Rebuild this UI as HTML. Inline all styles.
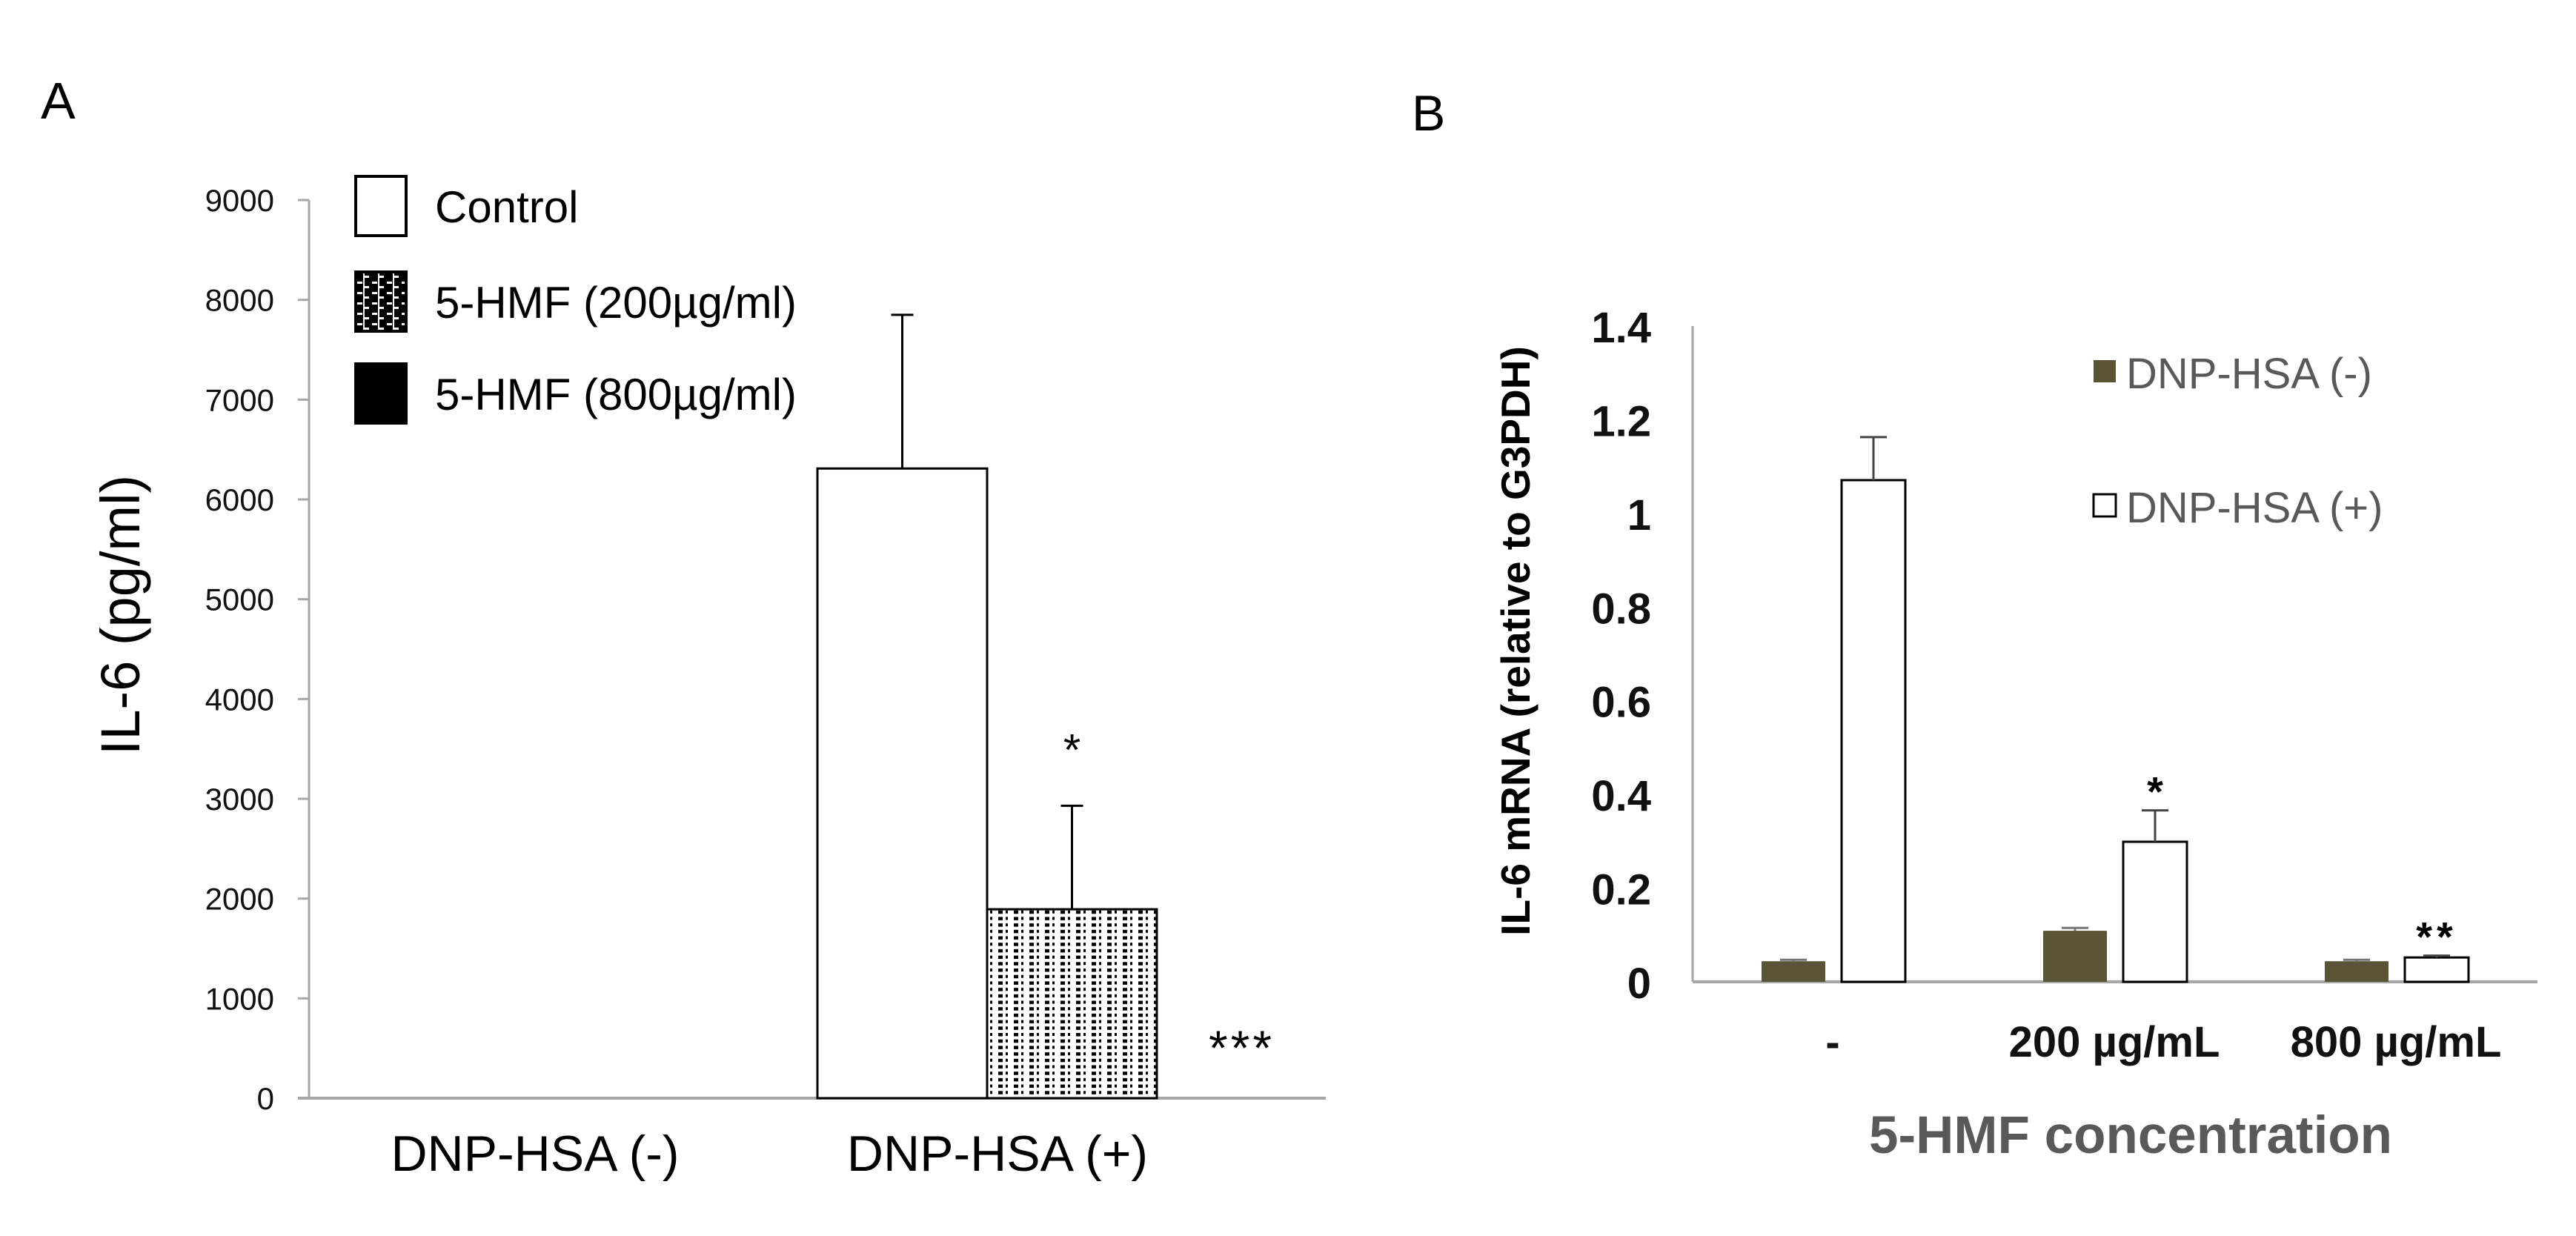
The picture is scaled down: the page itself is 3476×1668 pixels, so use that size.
<!DOCTYPE html>
<html><head><meta charset="utf-8"><style>
html,body{margin:0;padding:0;background:#fff;}
svg{display:block;}
text{font-family:"Liberation Sans",sans-serif;}
</style></head><body>
<svg id="fig" width="3476" height="1668" viewBox="0 0 3476 1668" xmlns="http://www.w3.org/2000/svg">
<defs>
<pattern id="dots" width="21" height="17.4" patternUnits="userSpaceOnUse">
<rect x="0" y="0" width="21" height="17.4" fill="#fff"/>
<rect x="3" y="2" width="6" height="4.5" fill="#000"/>
<rect x="13" y="2" width="3" height="4" fill="#000"/>
<rect x="3" y="10.7" width="6" height="4.5" fill="#000"/>
<rect x="13" y="10.7" width="3" height="4" fill="#000"/>
</pattern>
<pattern id="legpat" width="20" height="14" patternUnits="userSpaceOnUse">
<rect width="20" height="14" fill="#000"/>
<rect x="2" y="2" width="7" height="3" fill="#fff"/>
<rect x="12" y="8" width="6" height="3" fill="#fff"/>
<rect x="10" y="0" width="2" height="14" fill="#fff"/>
</pattern>
</defs>
<g id="panelA"></g>
<g id="panelB"></g>
</svg>
<script>
// Panel A data
const aCategories = ["DNP-HSA (-)", "DNP-HSA (+)"];
const aControl = [0, 6310];
const aControlErr = [0, 1540];
const aHmf200 = [0, 1893];
const aHmf200Err = [0, 1037];
const aHmf800 = [0, 0];
const aTicks = [0,1000,2000,3000,4000,5000,6000,7000,8000,9000];
// Panel B data
const bCategories = ["-", "200 µg/mL", "800 µg/mL"];
const bNeg = [0.044, 0.109, 0.044];
const bNegErr = [0.003, 0.006, 0.003];
const bPos = [1.071, 0.299, 0.052];
const bPosErr = [0.092, 0.067, 0.004];
const bTicks = [0, 0.2, 0.4, 0.6, 0.8, 1, 1.2, 1.4];
const bTickLabels = ["0","0.2","0.4","0.6","0.8","1","1.2","1.4"];

const NS = "http://www.w3.org/2000/svg";
function mk(parent, tag, attrs, txt) {
  const e = document.createElementNS(NS, tag);
  for (const k in attrs) e.setAttribute(k, attrs[k]);
  if (txt !== undefined) e.textContent = txt;
  parent.appendChild(e);
  return e;
}

// ---------- Panel A ----------
const A = document.getElementById('panelA');
const aX0 = 417, aX1 = 1789, aY0 = 1482, aYtop = 270, aMax = 9000;
const ay = v => aY0 - (v / aMax) * (aY0 - aYtop);
const aBand = 1230 / 2;
const ax = i => 417 + 71 + i * aBand;
const aBarW = 229;

let t = mk(A, 'text', {x: 55, y: 160, 'font-size': 70}, 'A');



let l = mk(A, 'line', {x1: aX0, y1: aYtop, x2: aX0, y2: aY0, stroke: '#a6a6a6', 'stroke-width': 3});


l = mk(A, 'line', {x1: 402, y1: aY0, x2: aX1, y2: aY0, stroke: '#a6a6a6', 'stroke-width': 4});



aTicks.forEach(v => {
  const tk = mk(A, 'line', {x1: 402, y1: ay(v), x2: aX0, y2: ay(v), stroke: '#a6a6a6', 'stroke-width': 3});
  
  
  const tl = mk(A, 'text', {x: 370, y: ay(v) + 15, 'font-size': 42, 'text-anchor': 'end', fill: '#111'}, String(v));
  
  
});

t = mk(A, 'text', {x: 0, y: 0, 'font-size': 74, 'text-anchor': 'middle', transform: 'translate(188,830) rotate(-90)'}, 'IL-6 (pg/ml)');



aCategories.forEach((c, i) => {
  const left = ax(i);
  const xl = mk(A, 'text', {x: i === 0 ? 722 : 1346, y: 1580, 'font-size': 68, 'text-anchor': 'middle'}, c);
  
  

  if (aControl[i] > 0) {
    const r = mk(A, 'rect', {x: left, y: ay(aControl[i]), width: aBarW, height: aY0 - ay(aControl[i]), fill: '#fff', stroke: '#000', 'stroke-width': 3});
    
    
    const ex = left + aBarW / 2;
    const e = mk(A, 'path', {d: `M${ex} ${ay(aControl[i])}V${ay(aControl[i] + aControlErr[i])}M${ex - 15} ${ay(aControl[i] + aControlErr[i])}H${ex + 15}`, stroke: '#000', 'stroke-width': 3, fill: 'none'});
    
    
  }
  if (aHmf200[i] > 0) {
    const l2 = left + aBarW;
    const r = mk(A, 'rect', {x: l2, y: ay(aHmf200[i]), width: aBarW, height: aY0 - ay(aHmf200[i]), fill: 'url(#dots)', stroke: '#000', 'stroke-width': 3});
    
    
    const ex = l2 + aBarW / 2;
    const e = mk(A, 'path', {d: `M${ex} ${ay(aHmf200[i])}V${ay(aHmf200[i] + aHmf200Err[i])}M${ex - 15} ${ay(aHmf200[i] + aHmf200Err[i])}H${ex + 15}`, stroke: '#000', 'stroke-width': 3, fill: 'none'});
    
    
    const s = mk(A, 'text', {x: ex, y: ay(aHmf200[i] + aHmf200Err[i]) - 55, 'font-size': 60, 'text-anchor': 'middle'}, '*');
    
    
  }
  if (i === 1) {
    const l3 = left + 2 * aBarW;
    const r = mk(A, 'rect', {x: l3, y: ay(aHmf800[i]), width: aBarW, height: Math.max(0, aY0 - ay(aHmf800[i])), fill: '#000'});
    
    
    const s = mk(A, 'text', {x: l3 + aBarW / 2, y: ay(aHmf800[i]) - 45, 'font-size': 66, 'letter-spacing': 4, 'text-anchor': 'middle'}, '***');
    
    
  }
});

// Legend A
const legA = [
  {label: 'Control', y: 236, fill: '#fff', name: 'legend-entry-control'},
  {label: '5-HMF (200µg/ml)', y: 365, fill: 'url(#legpat)', name: 'legend-entry-hmf-200'},
  {label: '5-HMF (800µg/ml)', y: 489, fill: '#000', name: 'legend-entry-hmf-800'}
];
legA.forEach(e => {
  const g = mk(A, 'g', {});
  
  
  mk(g, 'rect', {x: 480, y: e.y + 2, width: 68, height: 80, fill: e.fill, stroke: '#000', 'stroke-width': 4});
  mk(g, 'text', {x: 587, y: e.y + 64, 'font-size': 60}, e.label);
});

// ---------- Panel B ----------
const B = document.getElementById('panelB');
const bX0 = 2284, bX1 = 3424, bY0 = 1325, bMax = 1.4, bYtop = 440;
const by = v => bY0 - (v / bMax) * (bY0 - bYtop);
const bBand = (bX1 - bX0) / bCategories.length;
const bw = 86;

t = mk(B, 'text', {x: 1905, y: 176, 'font-size': 68}, 'B');



l = mk(B, 'line', {x1: bX0, y1: bYtop, x2: bX0, y2: bY0, stroke: '#a6a6a6', 'stroke-width': 3});


l = mk(B, 'line', {x1: bX0, y1: bY0, x2: bX1, y2: bY0, stroke: '#a6a6a6', 'stroke-width': 4});



bTicks.forEach((v, i) => {
  const tl = mk(B, 'text', {x: 2228, y: by(v) + 22, 'font-size': 58, 'font-weight': 'bold', 'text-anchor': 'end', fill: '#111'}, bTickLabels[i]);
  
  
});

t = mk(B, 'text', {x: 0, y: 0, 'font-size': 55, 'font-weight': 'bold', 'text-anchor': 'middle', transform: 'translate(2064,865) rotate(-90)'}, 'IL-6 mRNA (relative to G3PDH)');



bCategories.forEach((c, i) => {
  const gl = bX0 + i * bBand + 93;
  const xl = mk(B, 'text', {x: bX0 + i * bBand + 189, y: 1426, 'font-size': 58, 'font-weight': 'bold', 'text-anchor': 'middle', fill: '#111'}, c);
  
  

  const r1 = mk(B, 'rect', {x: gl, y: by(bNeg[i]), width: bw, height: bY0 - by(bNeg[i]), fill: '#5b5335'});
  
  
  const e1x = gl + bw / 2;
  const e1 = mk(B, 'path', {d: `M${e1x} ${by(bNeg[i])}V${by(bNeg[i] + bNegErr[i])}M${e1x - 18} ${by(bNeg[i] + bNegErr[i])}H${e1x + 18}`, stroke: '#777', 'stroke-width': 3, fill: 'none'});
  
  

  const px = gl + 108;
  const r2 = mk(B, 'rect', {x: px, y: by(bPos[i]), width: bw, height: bY0 - by(bPos[i]), fill: '#fff', stroke: '#000', 'stroke-width': 3});
  
  
  const e2x = px + bw / 2;
  const e2 = mk(B, 'path', {d: `M${e2x} ${by(bPos[i])}V${by(bPos[i] + bPosErr[i])}M${e2x - 18} ${by(bPos[i] + bPosErr[i])}H${e2x + 18}`, stroke: '#444', 'stroke-width': 3, fill: 'none'});
  
  
  if (i > 0) {
    const s = mk(B, 'text', {x: e2x, y: by(bPos[i] + bPosErr[i]) - 6, 'font-size': 56, 'font-weight': 'bold', 'letter-spacing': i === 2 ? 6 : 0, 'text-anchor': 'middle'}, i === 1 ? '*' : '**');
    
    
  }
});

t = mk(B, 'text', {x: 2875, y: 1556, 'font-size': 71, 'font-weight': 'bold', 'text-anchor': 'middle', fill: '#595959'}, '5-HMF concentration');



const legB = [
  {label: 'DNP-HSA (-)', y: 484, fill: '#5b5335', stroke: 'none', name: 'legend-entry-dnp-neg'},
  {label: 'DNP-HSA (+)', y: 665, fill: '#fff', stroke: '#000', name: 'legend-entry-dnp-pos'}
];
legB.forEach(e => {
  const g = mk(B, 'g', {});
  
  
  mk(g, 'rect', {x: 2825, y: e.y + 2, width: 30, height: 30, fill: e.fill, stroke: e.stroke, 'stroke-width': 3});
  mk(g, 'text', {x: 2869, y: e.y + 40, 'font-size': 58, fill: '#595959'}, e.label);
});
</script>
</body></html>
